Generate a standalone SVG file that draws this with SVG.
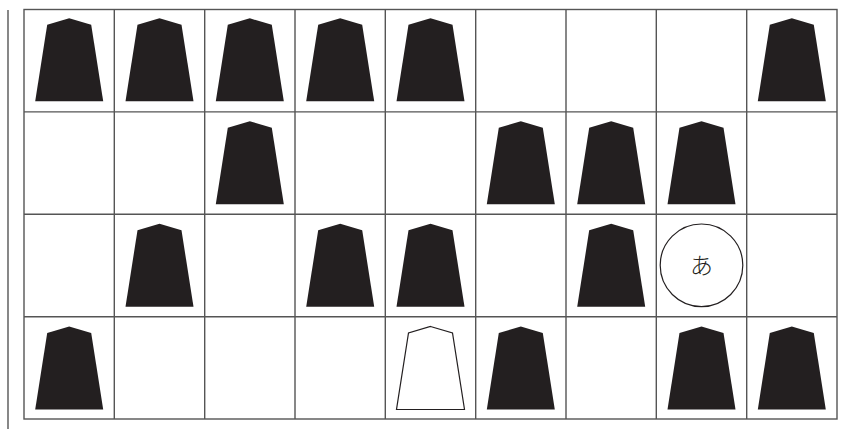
<svg xmlns="http://www.w3.org/2000/svg" width="842" height="431" viewBox="0 0 842 431">
<style>
.grid{stroke:#555;stroke-width:1.4;fill:none}
.bk{fill:#231f20}
.wh{fill:#fff;stroke:#231f20;stroke-width:1.2}
.lbl{font-family:"Noto Sans CJK JP",sans-serif;font-size:23px;font-weight:300;fill:#231f20}
</style>
<defs>
<polygon id="koma" points="0,0 22,6.5 34,83 -34,83 -22,6.5"/>
</defs>
<rect width="842" height="431" fill="#fff"/>
<g id="connectors">
<line class="grid" x1="8" y1="10" x2="8" y2="429"/>
<rect class="grid" x="24" y="9.5" width="813" height="409.5"/>
<path class="grid" d="M114.3 9.5V419M204.7 9.5V419M295 9.5V419M385.3 9.5V419M475.7 9.5V419M566 9.5V419M656.3 9.5V419M746.7 9.5V419M24 111.9H837M24 214.3H837M24 316.7H837"/>
</g>
<g id="r1c1"><use href="#koma" class="bk" x="69.2" y="18.3"/></g>
<g id="r1c2"><use href="#koma" class="bk" x="159.5" y="18.3"/></g>
<g id="r1c3"><use href="#koma" class="bk" x="249.8" y="18.3"/></g>
<g id="r1c4"><use href="#koma" class="bk" x="340.2" y="18.3"/></g>
<g id="r1c5"><use href="#koma" class="bk" x="430.5" y="18.3"/></g>
<g id="r1c9"><use href="#koma" class="bk" x="791.8" y="18.3"/></g>
<g id="r2c3"><use href="#koma" class="bk" x="249.8" y="121.2"/></g>
<g id="r2c6"><use href="#koma" class="bk" x="520.8" y="121.2"/></g>
<g id="r2c7"><use href="#koma" class="bk" x="611.2" y="121.2"/></g>
<g id="r2c8"><use href="#koma" class="bk" x="701.5" y="121.2"/></g>
<g id="r3c2"><use href="#koma" class="bk" x="159.5" y="223.8"/></g>
<g id="r3c4"><use href="#koma" class="bk" x="340.2" y="223.8"/></g>
<g id="r3c5"><use href="#koma" class="bk" x="430.5" y="223.8"/></g>
<g id="r3c7"><use href="#koma" class="bk" x="611.2" y="223.8"/></g>
<g id="r3c8">
<circle cx="701.5" cy="265.3" r="41.3" fill="#fff" stroke="#231f20" stroke-width="1.2"/>
<text class="lbl" x="701.5" y="273.5" text-anchor="middle">あ</text>
</g>
<g id="r4c1"><use href="#koma" class="bk" x="69.2" y="326.5"/></g>
<g id="r4c5"><use href="#koma" class="wh" x="430.5" y="326.5"/></g>
<g id="r4c6"><use href="#koma" class="bk" x="520.8" y="326.5"/></g>
<g id="r4c8"><use href="#koma" class="bk" x="701.5" y="326.5"/></g>
<g id="r4c9"><use href="#koma" class="bk" x="791.8" y="326.5"/></g>
</svg>
